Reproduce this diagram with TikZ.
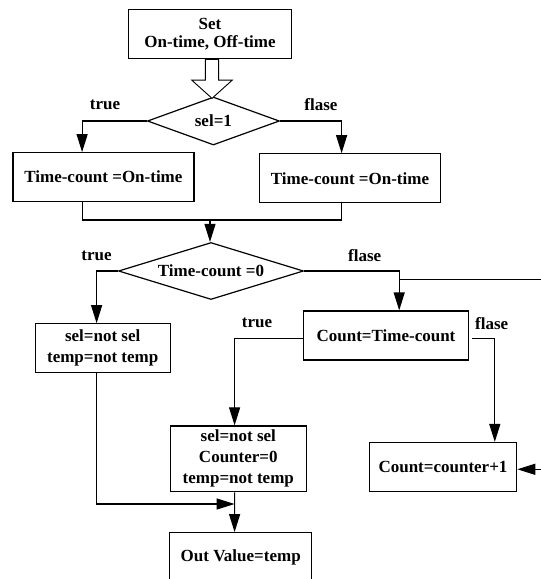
\documentclass[tikz,border=0pt]{standalone}
\usepackage{fontspec}
\setmainfont{Liberation Serif}
\usetikzlibrary{shapes.geometric,shapes.arrows,arrows.meta}

\begin{document}
\begin{tikzpicture}
[x=1pt, y=-1pt,
box/.style={draw, line width=1.2pt, inner sep=0pt, align=center},
decide/.style={draw, line width=1.2pt, shape=diamond, aspect=3, inner sep=0pt},
hollow/.style={draw, fill=white, line width=0.9pt, single arrow, shape border rotate=270,
               inner sep=6.2pt, minimum height=39pt, single arrow head extend=13.6pt,
               single arrow tip angle=96},
link/.style={line width=1.2pt, -{Triangle[length=18pt,width=11pt]}},
line/.style={line width=1.2pt}
]
\tikzset{every node/.style={font=\bfseries\fontsize{17}{21}\selectfont}}
%\tikzset{every node/.style={font=\bfseries\large}}
\useasboundingbox (0,0) rectangle (541,579);

% boxes and tests
\node[box, minimum width=163pt, minimum height=49pt] (set) at (210,33.8) {Set\\[-3pt]On-time, Off-time};
\node[decide, minimum width=132pt, minimum height=48pt] (sel) at (213.4,121) {sel=1};
\node[box, minimum width=181pt, minimum height=49pt] (left1) at (103.4,177.2) {Time-count =On-time};
\node[box, minimum width=181pt, minimum height=49pt] (right1) at (350,178.3) {Time-count =On-time};
\node[decide, minimum width=185pt, minimum height=57pt] (cnt0) at (211,271) {Time-count =0};
\node[box, minimum width=135pt, minimum height=49pt] (selbox) at (102.7,348.3) {sel=not sel\\temp=not temp};
\node[box, minimum width=164.6pt, minimum height=49pt] (count) at (386,335.5) {Count=Time-count};
\node[box, minimum width=136.3pt, minimum height=65.7pt] (mid) at (238.3,458.8) {sel=not sel\\Counter=0\\temp=not temp};
\node[box, minimum width=147.4pt, minimum height=49pt] (inc) at (443,467) {Count=counter+1};
\node[box, minimum width=141.8pt, minimum height=50pt] (out) at (240.7,557.7) {Out Value=temp};

% labels
\node (t1) at (105,105) {true};
\node (f1) at (321,105) {flase};
\node (t2) at (96.6,255.7) {true};
\node (f2) at (364.7,255.7) {flase};
\node (t3) at (257,323.3) {true};
\node (f3) at (491.7,323.3) {flase};

\node[hollow, anchor=tail] (push) at ([xshift=2pt]set.south) {};

\coordinate (join1) at (210,220);
\coordinate (join2) at (234.6,504);
\coordinate (exitR) at (541,279.3);
\coordinate (feedR) at (541,469.3);

% connectors
\draw[link] (sel.west) -| ([xshift=-21.3pt]left1.north);
\draw[link] (sel.east) -| ([xshift=-8.4pt]right1.north);
\draw[line] ([xshift=-21.3pt]left1.south) |- (join1) -| ([xshift=-8.4pt]right1.south);
\draw[link] (join1) -- (join1 |- cnt0.north);
\draw[link] (cnt0.west) -| ([xshift=-6.1pt]selbox.north);
\draw[link] (cnt0.east) -| ([xshift=13.2pt]count.north);
\draw[line] ([xshift=13.2pt]count.north |- exitR) -- (exitR);
\draw[link] ([yshift=-2.8pt]count.west) -| ([xshift=-3.7pt]mid.north);
\draw[link] ([yshift=-2.8pt,xshift=3pt]count.east) -| ([xshift=51.8pt]inc.north);
\draw[link] (feedR) -- ([yshift=-2.3pt]inc.east);
\draw[link] ([xshift=-6.1pt]selbox.south) |- (join2);
\draw[link] ([xshift=-3.7pt]mid.south) -- ([xshift=-6.1pt]out.north);
\end{tikzpicture}
\end{document}
